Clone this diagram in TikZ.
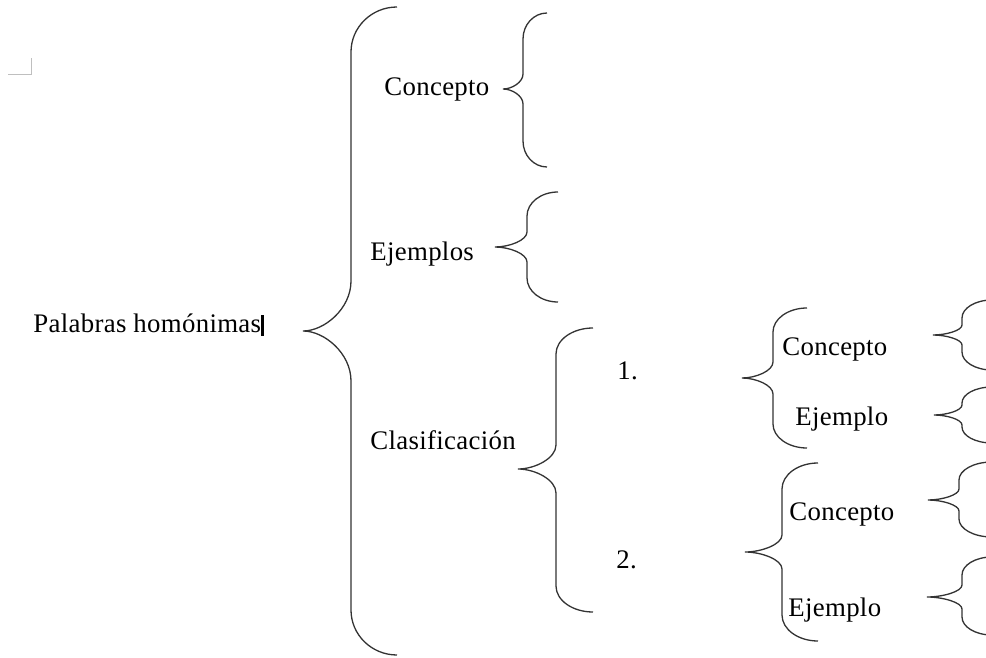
\documentclass[tikz,border=0pt]{standalone}
\usepackage{fontspec}
\setmainfont[LetterSpace=1.2]{Liberation Serif}
\def\kk{0.552}
\newcommand{\brc}[8]{%
  \draw[bracestyle] (#1,#3) .. controls ({#1-\kk*(#1-#2)},#3) and (#2,{#3+(1-\kk)*#4}) .. (#2,#3+#4)
    -- (#2,#6-#7)
    .. controls (#2,{#6-(1-\kk)*#7}) and ({#2-\kk*(#2-#5)},#6) .. (#5,#6)
    .. controls ({#2-\kk*(#2-#5)},#6) and (#2,{#6+(1-\kk)*#7}) .. (#2,#6+#7)
    -- (#2,#8-#4)
    .. controls (#2,{#8-(1-\kk)*#4}) and ({#1-\kk*(#1-#2)},#8) .. (#1,#8);}
\begin{document}
\begin{tikzpicture}[x=0.5pt,y=-0.5pt,
  bracestyle/.style={draw=black!80,line width=0.65pt},
  lbl/.style={anchor=base west,inner sep=0pt,font=\fontsize{13.4}{15}\selectfont}]
\useasboundingbox (0,0) rectangle (986,658);
\clip (0,0) rectangle (986,658);
% corner mark
\draw[black!25,line width=0.5pt] (8,75) -- (31,75) -- (31,58);
% texts
\node[lbl] (root) at (33,332) {Palabras homónimas};
\fill[black] (261,315) rectangle (263.5,336);
\node[lbl] (con) at (384,96) {Concepto};
\node[lbl] (eje) at (370,260) {Ejemplos};
\node[lbl] (cla) at (370,449) {Clasificación};
\node[lbl] (uno) at (617,379) {1.};
\node[lbl] (dos) at (616,568) {2.};
\node[lbl] (con1) at (782,355) {Concepto};
\node[lbl] (eje1) at (795,425) {Ejemplo};
\node[lbl] (con2) at (789,520) {Concepto};
\node[lbl] (eje2) at (788,616) {Ejemplo};
% braces: endx, vx, ytop, r, tipx, tipy, r2, ybot
\brc{397}{351}{7}{45}{303}{331}{50}{655}
\brc{547}{523}{13}{26}{503}{89}{15}{167}
\brc{558}{527}{192}{24}{495}{247}{15}{302}
\brc{593}{556}{328}{26}{518}{469}{24}{612}
\brc{807}{773}{308}{24}{742}{378}{16}{448}
\brc{818}{782}{463}{26}{745}{552}{17}{641}
\brc{992}{962}{300}{18}{933}{335}{10}{370}
\brc{992}{962}{387}{16}{934}{415}{10}{443}
\brc{992}{959}{462}{18}{928}{500}{11}{537}
\brc{992}{962}{557}{18}{927}{597}{12}{635}
\end{tikzpicture}
\end{document}
